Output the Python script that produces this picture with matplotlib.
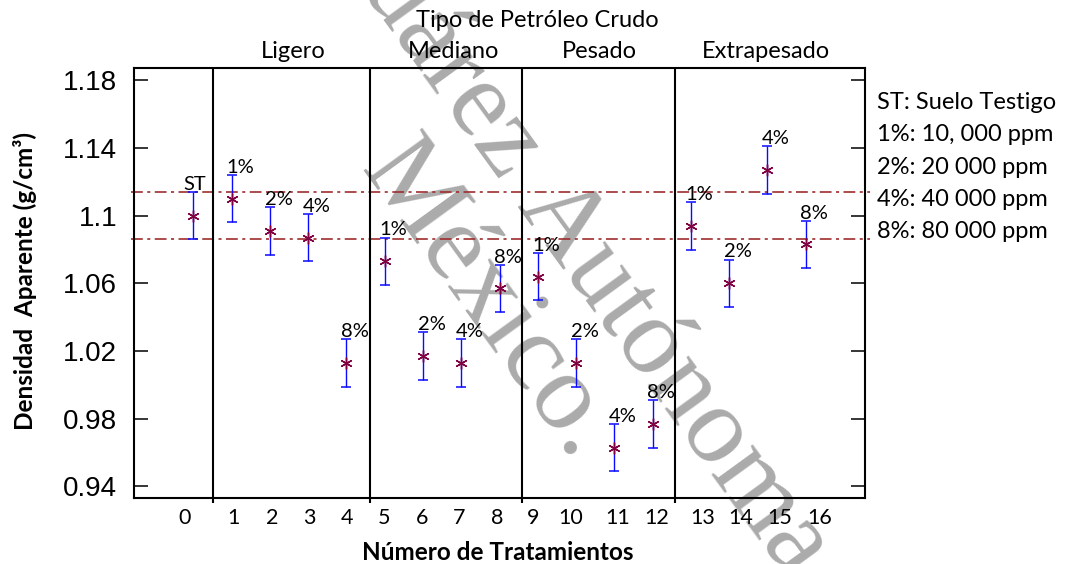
import matplotlib
matplotlib.use("Agg")
import matplotlib.pyplot as plt
from matplotlib.transforms import blended_transform_factory
import numpy as np

# ---- data -------------------------------------------------------------
treatments = list(range(17))
tick_labels = [str(t) for t in treatments]
density = [1.100, 1.110, 1.091, 1.087, 1.013,
           1.073, 1.017, 1.013, 1.057,
           1.064, 1.013, 0.963, 0.977,
           1.094, 1.060, 1.127, 1.083]
error = [0.014, 0.014, 0.014, 0.014, 0.014,
         0.014, 0.014, 0.014, 0.014,
         0.014, 0.014, 0.014, 0.014,
         0.014, 0.014, 0.014, 0.014]
point_labels = ["ST", "1%", "2%", "4%", "8%",
                "1%", "2%", "4%", "8%",
                "1%", "2%", "4%", "8%",
                "1%", "2%", "4%", "8%"]
group_names = ["Ligero", "Mediano", "Pesado", "Extrapesado"]
legend_lines = ["ST: Suelo Testigo", "1%: 10, 000 ppm", "2%: 20 000 ppm",
                "4%: 40 000 ppm", "8%: 80 000 ppm"]
y_ticks = [0.94, 0.98, 1.02, 1.06, 1.10, 1.14, 1.18]
y_tick_labels = ["0.94", "0.98", "1.02", "1.06", "1.1", "1.14", "1.18"]

# ---- layout -----------------------------------------------------------
tick_label_x = [-0.23, 1.06, 2.05, 3.02, 4.01, 4.98, 5.97, 6.95, 7.93,
                8.88, 9.87, 11.1, 12.11, 13.3, 14.3, 15.33, 16.36]
separators = [0.52, 4.62, 8.6, 12.58]
group_label_x = [2.6, 6.8, 10.6, 14.96]

W, H = 1065, 564
plt.rcParams["lines.scale_dashes"] = False
fig = plt.figure(figsize=(W / 100, H / 100), dpi=100)
fig.patch.set_facecolor("white")

def fx(px):
    return px / W

def fy(py):
    return 1 - py / H

# background watermark
ang = 54.0
fwd = np.array([np.cos(np.radians(ang)), np.sin(np.radians(ang))])
up = np.array([fwd[1], -fwd[0]])
em = 110.0
wm = dict(family="Liberation Serif", size=em * 72 / 100, color="#ababab",
          rotation=-ang, rotation_mode="anchor", va="baseline", zorder=-5)
p1 = np.array([516.0, 206.0])
fig.text(fx(p1[0]), fy(p1[1]), "Autónoma", ha="left", **wm)
p0 = p1 - 0.25 * em * fwd
fig.text(fx(p0[0]), fy(p0[1]), "Juárez", ha="right", **wm)
dot = np.array([570.0, 450.0])
p2 = dot + 0.125 * em * fwd - 0.05 * em * up
fig.text(fx(p2[0]), fy(p2[1]), "México.", ha="right", **wm)

ax = fig.add_axes([fx(134), fy(498.3), fx(865 - 134), (498.3 - 68) / H])
ax.set_facecolor("none")
ax.set_xlim(-1.55, 17.55)
ax.set_ylim(0.933, 1.1873)

font = "Lato"

# control reference band (ST mean +/- its error)
ref_color = "#9e2e2e"
for yv in (density[0] - error[0], density[0] + error[0]):
    ax.axhline(yv, xmin=-0.004, xmax=1.007, color=ref_color, lw=1.2,
               linestyle=(0, (8.5, 3.2, 2.2, 3.2)), clip_on=False, zorder=2)

# group separators
for xs in separators:
    ax.vlines(xs, -0.012, 1.0, transform=ax.get_xaxis_transform(),
              color="black", lw=1.5, clip_on=False, zorder=3)

# error bars and markers
ax.errorbar(treatments, density, yerr=error, fmt="none", ecolor="#0a0aff",
            elinewidth=1.0, capsize=3.3, capthick=1.1, zorder=4)
ax.plot(treatments, density, linestyle="none", marker=(6, 2, 0),
        markersize=8.5, markeredgewidth=1.0, color="#800040", zorder=5)

# concentration labels above each bar
for x, y, e, lab in zip(treatments, density, error, point_labels):
    if lab == "ST":
        ax.annotate(lab, (x, y + e), xytext=(0.8, 1.6), textcoords="offset points",
                    ha="center", va="baseline", fontsize=14.5, family=font)
    else:
        ax.annotate(lab, (x, y + e), xytext=(-3.8, 1.6), textcoords="offset points",
                    ha="left", va="baseline", fontsize=14.5, family=font)

# axes styling
for s in ax.spines.values():
    s.set_linewidth(1.5)
ax.set_yticks(y_ticks)
ax.set_yticklabels(y_tick_labels, family="Liberation Sans", fontsize=20)
ax.tick_params(axis="y", direction="in", length=10, width=1.1, pad=12,
               left=True, right=True)
ax.set_xticks(tick_label_x)
ax.set_xticklabels(tick_labels, family=font, fontsize=15.5)
ax.tick_params(axis="x", length=0, pad=7)

# header: crude oil type and group names
bt = blended_transform_factory(ax.transData, fig.transFigure)
ax.text(9.0, fy(27), "Tipo de Petróleo Crudo", transform=bt, ha="center",
        va="baseline", fontsize=17, family=font)
for gx, name in zip(group_label_x, group_names):
    ax.text(gx, fy(58.5), name, transform=bt, ha="center", va="baseline",
            fontsize=17, family=font)

# key on the right
for i, line in enumerate(legend_lines):
    fig.text(fx(877), fy(109 + 32.3 * i), line, ha="left", va="baseline",
             fontsize=17, family=font)

# axis titles
fig.text(fx(498), fy(553), "Número de Tratamientos", ha="center", va="center",
         fontsize=17.5, fontweight="bold", family=font)
fig.text(fx(25), fy(281), "Densidad  Aparente (g/cm³)", ha="center", va="center",
         rotation=90, fontsize=17.5, fontweight="bold", family=font)

fig.savefig("out.png", dpi=100)
